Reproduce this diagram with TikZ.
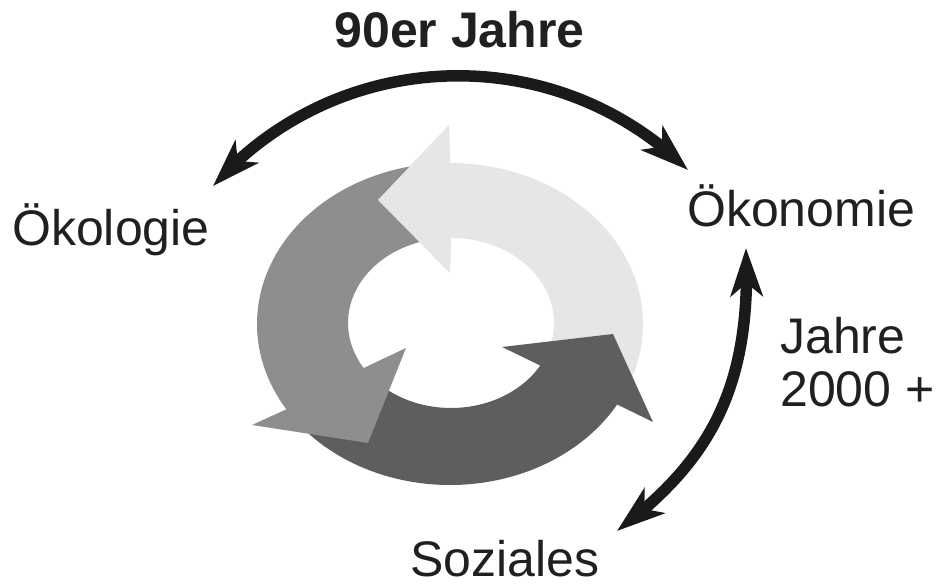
\documentclass[tikz,border=0pt]{standalone}
\usepackage{fontspec}
\setmainfont{Liberation Sans}
\usetikzlibrary{arrows.meta,bending,calc}
\definecolor{ringlight}{HTML}{E6E6E6}
\definecolor{ringmid}{HTML}{8E8E8E}
\definecolor{ringdark}{HTML}{5E5E5E}
\definecolor{textcol}{HTML}{202020}
\definecolor{arrowcol}{HTML}{1A1A1A}
\tikzset{headtip/.tip={Stealth[length=48pt,width=32pt,inset=13pt]}}
\begin{document}
\begin{tikzpicture}[x=1pt,y=1pt,
  lbl/.style={inner sep=0pt, text=textcol, text depth=0pt, font=\fontsize{50}{53}\selectfont},
  dbl/.style={line width=11.5pt, draw=arrowcol, headtip-headtip}]
\useasboundingbox (0,0) rectangle (946,585);

% light grey arrow (top, pointing left)
\fill[ringlight] (450,422) -- (449,460) -- (378,385) -- (450,312) -- (451,347)
  arc[start angle=90,end angle=-20,x radius=103pt,y radius=85pt]
  -- ($(450,261)+(-20:193pt and 161pt)$)
  arc[start angle=-20,end angle=90,x radius=193pt,y radius=161pt] -- cycle;

% dark grey arrow (bottom, pointing up-right)
\fill[ringdark] ($(450,261)+(220:193pt and 161pt)$)
  arc[start angle=220,end angle=330,x radius=193pt,y radius=161pt]
  -- (653,163) -- (613,251) -- (502,238)
  -- ($(451,262)+(330:103pt and 85pt)$)
  arc[start angle=330,end angle=220,x radius=103pt,y radius=85pt] -- cycle;

% medium grey arrow (left, pointing down)
\fill[ringmid] ($(450,261)+(100:193pt and 161pt)$)
  arc[start angle=100,end angle=212,x radius=193pt,y radius=161pt]
  -- (252,160) -- (368,142) -- (406,237)
  -- ($(451,262)+(212:103pt and 85pt)$)
  arc[start angle=212,end angle=100,x radius=103pt,y radius=85pt] -- cycle;

% light arrow head again on top
\fill[ringlight] (449,460) -- (378,385) -- (450,312) -- (451,347) -- (450,422) -- cycle;

% labels
\node[lbl, font=\fontsize{50}{53}\selectfont\bfseries, anchor=base] (neunziger) at (459.5,537) {90er Jahre};
\node[lbl, anchor=base west] (oekologie) at (12,339) {Ökologie};
\node[lbl, anchor=base west] (oekonomie) at (687,358) {Ökonomie};
\node[lbl, anchor=base west] (soziales) at (410,8) {Soziales};
\node[lbl, anchor=base west, align=left] (jahre) at (780,178) {Jahre\\2000 +};

% connector end points
\coordinate (tl) at (213,399);
\coordinate (tr) at (688,415);
\coordinate (rt) at (746,337);
\coordinate (rb) at (617,54);

\draw[dbl] (tl) .. controls (337.5,539.3) and (554.4,546.7) .. (tr);
\draw[dbl] (rt) .. controls (752,195) and (708,123) .. (rb);
\end{tikzpicture}
\end{document}
